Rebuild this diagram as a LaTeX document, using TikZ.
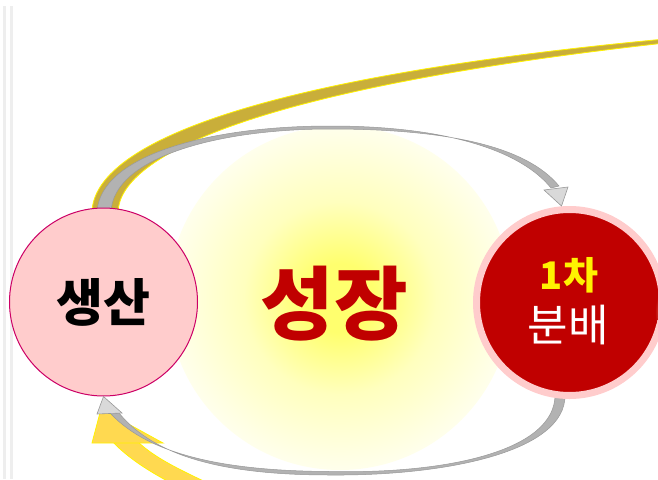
\documentclass[tikz,border=0pt]{standalone}
\usepackage{fontspec}
\newfontfamily\kr{Noto Sans CJK KR}
\definecolor{pinkc}{HTML}{FFCCCC}
\definecolor{pinkborder}{HTML}{CC0066}
\definecolor{redc}{HTML}{C00000}
\definecolor{goldc}{HTML}{C9AE3A}
\definecolor{ybright}{RGB}{255,217,80}
\definecolor{shaftc}{HTML}{B2B2B2}
\definecolor{headc}{HTML}{D9D9D9}
\definecolor{edgec}{HTML}{999999}
\definecolor{sidec}{HTML}{EEEEEE}
\definecolor{glowc}{RGB}{255,255,110}
\definecolor{glowmid}{RGB}{255,255,190}
\definecolor{glowedge}{RGB}{255,255,236}
\definecolor{spotc}{RGB}{232,150,120}
\pgfdeclareradialshading{glowshade}{\pgfpointorigin}{color(0bp)=(glowc); color(5bp)=(glowc); color(14bp)=(glowmid); color(25bp)=(glowedge); color(50bp)=(glowedge)}
\tikzset{
  yband/.style={fill=goldc, draw=yellow, line width=0.8pt},
  ybright/.style={fill=ybright, draw=yellow, line width=0.8pt},
  gshaft/.style={fill=shaftc, draw=edgec, line width=0.5pt},
  ghead/.style={fill=headc, draw=edgec, line width=0.6pt, line join=miter},
  sideline/.style={fill=sidec}
}
\begin{document}
\begin{tikzpicture}[x=1pt,y=-1pt]
\useasboundingbox (0,0) rectangle (658,479);
\clip (0,0) rectangle (658,479);
\fill[white] (0,0) rectangle (658,479);
% side lines
\fill[sideline] (2.5,6) rectangle (5.5,479);
\fill[sideline] (9.5,6) rectangle (12.5,479);
% glow
\shade[shading=glowshade] (340,298) circle (172);
% top yellow band
\path[yband] (92,212) .. controls (94,145) and (250,78) .. (665,39) -- (665,43) .. controls (262,88) and (120,154) .. (118,212) -- cycle;
% top gray shaft
\path[gshaft] (97,212) .. controls (100,155) and (210,126) .. (330,126) .. controls (450,126) and (522,152) .. (551,188) -- (559,186) .. controls (527,147) and (450,129) .. (330,129) .. controls (216,129) and (113,158) .. (111,212) -- cycle;
% bottom yellow arrow
\path[ybright] (113,442) .. controls (128,458) and (150,472) .. (175,485) -- (212,485) .. controls (180,470) and (155,458) .. (138,442) -- cycle;
\path[ybright] (92,443) -- (101,409) -- (163,443) -- cycle;
% bottom gray shaft
\path[gshaft] (555,395) .. controls (555,450) and (450,474) .. (330,471.5) .. controls (225,471) and (150,455) .. (111,414) -- (119,413) .. controls (155,457) and (225,475) .. (330,475) .. controls (445,476) and (566,452) .. (565,395) -- cycle;
% circles
\node[circle, minimum size=188pt, inner sep=0pt, fill=pinkc, draw=pinkborder, line width=1pt] (prod) at (103.5,302) {};
\node[circle, minimum size=186pt, inner sep=0pt, fill=redc, draw=pinkc, line width=7pt] (dist) at (569.5,302.5) {};
\begin{scope}
\clip (569.5,302.5) circle (89.5);
\shade[inner color=spotc, outer color=redc] (664,312) ellipse (9 and 22);
\end{scope}
% gray heads
\path[ghead] (544,190) -- ([xshift=-8pt]dist.north) -- (568,187) -- cycle;
\path[ghead] (97,414) -- (prod.south) -- (122,413) -- cycle;
% texts
\node[font=\kr\bfseries\fontsize{51}{60}\selectfont, text=black] (prodtxt) at (prod.center) {생산};
\node[font=\kr\bfseries\fontsize{80}{90}\selectfont, text=redc] (growth) at (334,304) {성장};
\node[font=\kr\bfseries\fontsize{38}{44}\selectfont, text=yellow] (first) at (569,275) {1차};
\node[font=\kr\fontsize{44}{50}\selectfont, text=white] (distxt) at (568,325) {분배};
\end{tikzpicture}
\end{document}
